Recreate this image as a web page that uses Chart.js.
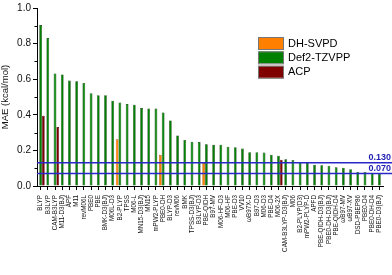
<!DOCTYPE html>
<html>
<head>
<meta charset="utf-8">
<script src="https://cdn.jsdelivr.net/npm/chart.js@4.4.1/dist/chart.umd.min.js"></script>
<style>
  html, body { margin: 0; padding: 0; background: #fff; }
  #wrap { width: 392px; height: 275px; }
</style>
</head>
<body>
<div id="wrap"><canvas id="maeChart" width="392" height="275"></canvas></div>
<script>
// functionals, sorted by Def2-TZVPP MAE
const methods = ["BLYP", "B3LYP", "CAM-B3LYP", "M11-D3(BJ)", "APF", "M11", "revM06L", "PBE0", "PBE",
    "BMK-D3(BJ)", "M06L-D3", "B2-PLYP", "TPSS", "M06-L", "MN15-D3(BJ)", "MN15", "mPW2-PLYP", "PBE0-DH",
    "BLYP-D3", "revM06", "BMK", "TPSS-D3(BJ)", "B3LYP-D3", "PBE-QIDH", "B97-MV", "M06-HF-D3", "M06-HF",
    "PBE-D3", "VV10", "ωB97X-D", "B97-D3", "M06-D3", "PBE-D4", "M06-2X", "CAM-B3LYP-D3(BJ)", "M06",
    "B2-PLYP(D3)", "mPW2-PLYP-D", "APFD", "PBE-QIDH-D3(BJ)", "PBE0-DH-D3(BJ)", "PBE-QIDH-D4", "ωB97-MV",
    "ωB97-XV", "DSD-PBEP86", "PBE0-D4", "PBE0-DH-D4", "PBE0-D3(BJ)"];

const def2 = [0.904, 0.831, 0.632, 0.627, 0.592, 0.588, 0.579, 0.521, 0.510, 0.510, 0.479, 0.469, 0.460,
    0.457, 0.438, 0.436, 0.436, 0.413, 0.368, 0.284, 0.259, 0.248, 0.247, 0.234, 0.232, 0.232, 0.220,
    0.218, 0.210, 0.190, 0.190, 0.188, 0.176, 0.170, 0.150, 0.146, 0.135, 0.129, 0.120, 0.116, 0.114,
    0.105, 0.103, 0.094, 0.079, 0.079, 0.073, 0.069];

// only a few methods have these
const dhsvpd = {"B2-PLYP": 0.262, "PBE0-DH": 0.175, "PBE-QIDH": 0.129};
const acp = {"BLYP": 0.395, "CAM-B3LYP": 0.331, "M06-2X": 0.148};

const refLines = [0.130, 0.070];
const yMax = 1.0, yStep = 0.2;

const font = "'Liberation Sans', Arial, sans-serif";

const extras = {
    id: 'extras',
    afterDraw(chart) {
        const c = chart.ctx;
        const area = chart.chartArea;
        const y = chart.scales.y;
        c.save();
        // minor ticks on the y axis
        c.strokeStyle = '#000';
        c.lineWidth = 1;
        for (let v = yStep / 2; v < yMax; v += yStep) {
            const py = Math.round(y.getPixelForValue(v)) + 0.5;
            c.beginPath();
            c.moveTo(area.left - 2.5, py);
            c.lineTo(area.left, py);
            c.stroke();
        }
        // reference lines
        c.font = "bold 9px " + font;
        c.textAlign = 'right';
        c.textBaseline = 'bottom';
        c.lineWidth = 1.5;
        refLines.forEach(v => {
            const py = y.getPixelForValue(v);
            c.strokeStyle = '#2828c8';
            c.fillStyle = '#1e1eb4';
            c.beginPath();
            c.moveTo(area.left, py);
            c.lineTo(chart.width, py);
            c.stroke();
            c.fillText(v.toFixed(3), chart.width - 1, py - 1);
        });
        // legend
        c.font = "11px " + font;
        c.textAlign = 'left';
        c.textBaseline = 'middle';
        c.lineWidth = 1;
        chart.data.datasets.forEach((ds, i) => {
            const top = 37 + i * 14.4;
            c.fillStyle = ds.backgroundColor;
            c.fillRect(258.5, top, 25, 12);
            c.strokeStyle = '#777';
            c.strokeRect(258.5, top + 0.5, 25, 12);
            c.fillStyle = '#000';
            c.fillText(ds.label, 288, top + 6.5);
        });
        c.restore();
    }
};

new Chart(document.getElementById('maeChart'), {
    type: 'bar',
    data: {
        labels: methods,
        datasets: [
            {label: 'DH-SVPD', data: methods.map(m => dhsvpd[m] ?? null),
             backgroundColor: '#ff8000', borderColor: '#a05000', borderWidth: 0.6},
            {label: 'Def2-TZVPP', data: def2,
             backgroundColor: '#008000', borderColor: '#0d3d0d', borderWidth: 0.6},
            {label: 'ACP', data: methods.map(m => acp[m] ?? null),
             backgroundColor: '#800000', borderColor: '#3d0000', borderWidth: 0.6}
        ]
    },
    options: {
        responsive: false,
        animation: false,
        devicePixelRatio: 1,
        categoryPercentage: 1.15,
        barPercentage: 1.0,
        layout: {padding: {top: 5, right: 3, left: 0, bottom: 0}},
        plugins: {legend: {display: false}, tooltip: {enabled: false}},
        scales: {
            x: {
                offset: true,
                grid: {display: true, drawOnChartArea: false, offset: false, tickLength: 4, color: '#000'},
                border: {display: true, color: '#000', width: 1},
                ticks: {
                    autoSkip: false, maxRotation: 90, minRotation: 90, padding: 5,
                    color: '#111', font: {family: font, size: 6.3}
                },
                afterFit(scale) { scale.height = 89; }
            },
            y: {
                min: 0, max: yMax,
                grid: {display: true, drawOnChartArea: false, tickLength: 4, color: '#000'},
                border: {display: true, color: '#000', width: 1},
                ticks: {
                    stepSize: yStep, padding: 2, color: '#111', font: {family: font, size: 10},
                    callback: v => v.toFixed(1)
                },
                title: {display: true, text: 'MAE (kcal/mol)', color: '#111', padding: 0,
                        font: {family: font, size: 9.5}},
                afterFit(scale) { scale.width = 37; }
            }
        }
    },
    plugins: [extras]
});
</script>
</body>
</html>
